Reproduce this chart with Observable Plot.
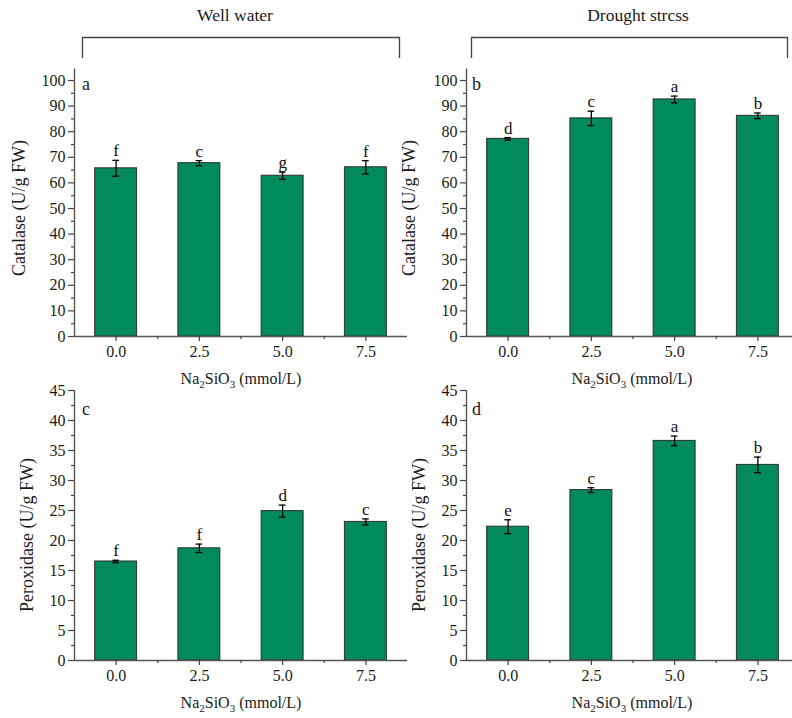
<!DOCTYPE html>
<html><head><meta charset="utf-8">
<script src="https://cdn.jsdelivr.net/npm/d3@7"></script>
<script src="https://cdn.jsdelivr.net/npm/@observablehq/plot@0.6"></script>
<style>
body{margin:0;background:#fff;overflow:hidden}
#root{position:relative;width:792px;height:718px;overflow:hidden;background:#fff}
.pl{position:absolute}
.pl svg{overflow:visible;max-width:none}
#ov{position:absolute;left:0;top:0}
</style></head><body><div id="root"></div>
<script>
// ---- data ----
const concentrations = [0, 2.5, 5, 7.5];
const catalaseWell = [65.7, 67.7, 62.8, 66.1];
const catalaseWellErr = [3.1, 1.0, 1.4, 2.6];
const catalaseWellLetters = ["f", "c", "g", "f"];
const catalaseDrought = [77.2, 85.2, 92.6, 86.2];
const catalaseDroughtErr = [0.5, 2.8, 1.3, 1.1];
const catalaseDroughtLetters = ["d", "c", "a", "b"];
const peroxidaseWell = [16.5, 18.7, 24.9, 23.1];
const peroxidaseWellErr = [0.2, 0.7, 1.0, 0.5];
const peroxidaseWellLetters = ["f", "f", "d", "c"];
const peroxidaseDrought = [22.3, 28.4, 36.6, 32.6];
const peroxidaseDroughtErr = [1.15, 0.4, 0.8, 1.3];
const peroxidaseDroughtLetters = ["e", "c", "a", "b"];
const xTicks = [0, 2.5, 5, 7.5];
const xMinorTicks = [1.25, 3.75, 6.25];
const catalaseTicks = [0, 10, 20, 30, 40, 50, 60, 70, 80, 90, 100];
const catalaseMinorTicks = [5, 15, 25, 35, 45, 55, 65, 75, 85, 95];
const peroxidaseTicks = [0, 5, 10, 15, 20, 25, 30, 35, 40, 45];
const peroxidaseMinorTicks = [2.5, 7.5, 12.5, 17.5, 22.5, 27.5, 32.5, 37.5, 42.5];

const FONT = '"Liberation Serif","Times New Roman",serif';
const root = document.getElementById("root");

function panel(o) {
  const data = concentrations.map((c, i) => ({c, v: o.values[i], e: o.errs[i], l: o.letters[i]}));
  const p = Plot.plot({
    width: o.width, height: o.height,
    marginTop: o.mTop, marginBottom: o.mBottom, marginLeft: o.mLeft, marginRight: o.mRight,
    style: {background: "transparent", fontFamily: FONT, fontSize: "16px", color: "#1a1a1a", overflow: "visible"},
    x: {domain: [-1.25, 8.75]},
    y: {domain: [0, o.yMax]},
    marks: [
      Plot.rectY(data, {x1: d => d.c - 0.63, x2: d => d.c + 0.63, y1: 0, y2: "v", fill: "#008a5e", stroke: "#2e2e2e", strokeWidth: 1}),
      Plot.ruleX(data, {x: "c", y1: d => d.v - d.e, y2: d => d.v + d.e, stroke: "#000", strokeWidth: 1.3}),
      Plot.ruleY(data, {x1: d => d.c - 0.1, x2: d => d.c + 0.1, y: d => d.v + d.e, stroke: "#000", strokeWidth: 1.3}),
      Plot.ruleY(data, {x1: d => d.c - 0.1, x2: d => d.c + 0.1, y: d => d.v - d.e, stroke: "#000", strokeWidth: 1.3}),
      Plot.text(data, {x: "c", y: d => d.v + d.e, text: "l", lineAnchor: "bottom", dy: -4, fontSize: 17, fill: "#111", fontFamily: FONT}),
      Plot.ruleX([-1.25], {y1: 0, y2: o.yMax, stroke: "#555", strokeWidth: 1.4}),
      Plot.ruleY([0], {x1: -1.25, x2: 8.75, stroke: "#555", strokeWidth: 1.4}),
      Plot.axisY({ticks: o.yTicks, tickSize: 6, tickPadding: 3, label: null, stroke: "#444", strokeWidth: 1.2, fill: "#1a1a1a", fontSize: 16}),
      Plot.axisY({ticks: o.yMinor, tickSize: 3, tickFormat: () => "", label: null, stroke: "#444", strokeWidth: 1.2}),
      Plot.axisX({ticks: xTicks, tickFormat: d3.format(".1f"), tickSize: 5, tickPadding: 4, label: null, stroke: "#444", strokeWidth: 1.2, fill: "#1a1a1a", fontSize: 16}),
      Plot.axisX({ticks: xMinorTicks, tickSize: 3, tickFormat: () => "", label: null, stroke: "#444", strokeWidth: 1.2})
    ]
  });
  const div = document.createElement("div");
  div.className = "pl";
  div.style.left = o.left + "px";
  div.style.top = o.top + "px";
  div.appendChild(p);
  root.appendChild(div);
}

// top row: y=0 at 336, 100 at 80 ; bottom row: 0 at 660, 45 at 390
const topRow = {top: 0, height: 400, mTop: 336 - 104.5 * 2.56, mBottom: 64, yMax: 104.5, yTicks: catalaseTicks, yMinor: catalaseMinorTicks};
const botRow = {top: 330, height: 390, mTop: 60, mBottom: 60, yMax: 45, yTicks: peroxidaseTicks, yMinor: peroxidaseMinorTicks};
const leftCol = {left: 0, width: 410, mLeft: 74, mRight: 3};
const rightCol = {left: 392, width: 410, mLeft: 74, mRight: 3};

panel({...topRow, ...leftCol, values: catalaseWell, errs: catalaseWellErr, letters: catalaseWellLetters});
panel({...topRow, ...rightCol, values: catalaseDrought, errs: catalaseDroughtErr, letters: catalaseDroughtLetters});
panel({...botRow, ...leftCol, values: peroxidaseWell, errs: peroxidaseWellErr, letters: peroxidaseWellLetters});
panel({...botRow, ...rightCol, values: peroxidaseDrought, errs: peroxidaseDroughtErr, letters: peroxidaseDroughtLetters});

// overlay: titles, brackets, panel letters, axis labels
const NS = "http://www.w3.org/2000/svg";
const ov = document.createElementNS(NS, "svg");
ov.setAttribute("id", "ov");
ov.setAttribute("width", 792);
ov.setAttribute("height", 718);
ov.style.fontFamily = FONT;
root.appendChild(ov);
function txt(x, y, s, size, anchor, rot) {
  const t = document.createElementNS(NS, "text");
  t.setAttribute("x", x); t.setAttribute("y", y);
  t.setAttribute("font-size", size);
  t.setAttribute("text-anchor", anchor || "start");
  t.setAttribute("fill", "#1a1a1a");
  if (rot) t.setAttribute("transform", `rotate(-90 ${x} ${y})`);
  t.textContent = s;
  ov.appendChild(t);
  return t;
}
function path(d) {
  const p = document.createElementNS(NS, "path");
  p.setAttribute("d", d); p.setAttribute("fill", "none");
  p.setAttribute("stroke", "#444"); p.setAttribute("stroke-width", 1.3);
  ov.appendChild(p);
}
txt(235, 21, "Well water", 17.5, "middle");
txt(638, 21, "Drought strcss", 17.5, "middle");
path("M82.5,58 V37.5 H399.5 V58");
path("M471.5,58 V37.5 H787.5 V58");
txt(82, 90, "a", 18);
txt(472, 90, "b", 18);
txt(82, 415, "c", 18);
txt(472, 415, "d", 18);
function xlabel(cx, y) {
  const t = document.createElementNS(NS, "text");
  t.setAttribute("x", cx); t.setAttribute("y", y);
  t.setAttribute("font-size", 16); t.setAttribute("text-anchor", "middle"); t.setAttribute("fill", "#1a1a1a");
  const parts = [["Na", 0, 16], ["2", 4, 11], ["SiO", -4, 16], ["3", 4, 11], [" (mmol/L)", -4, 16]];
  for (const [s, dy, fs] of parts) {
    const ts = document.createElementNS(NS, "tspan");
    ts.setAttribute("dy", dy); ts.setAttribute("font-size", fs);
    ts.textContent = s; t.appendChild(ts);
  }
  ov.appendChild(t);
}
xlabel(241, 384);
xlabel(632, 384);
xlabel(241, 708);
xlabel(632, 708);
txt(25, 208, "Catalase (U/g FW)", 18, "middle", true);
txt(415, 208, "Catalase (U/g FW)", 18, "middle", true);
txt(33, 535, "Peroxidase (U/g FW)", 18, "middle", true);
txt(425, 535, "Peroxidase (U/g FW)", 18, "middle", true);
</script></body></html>
